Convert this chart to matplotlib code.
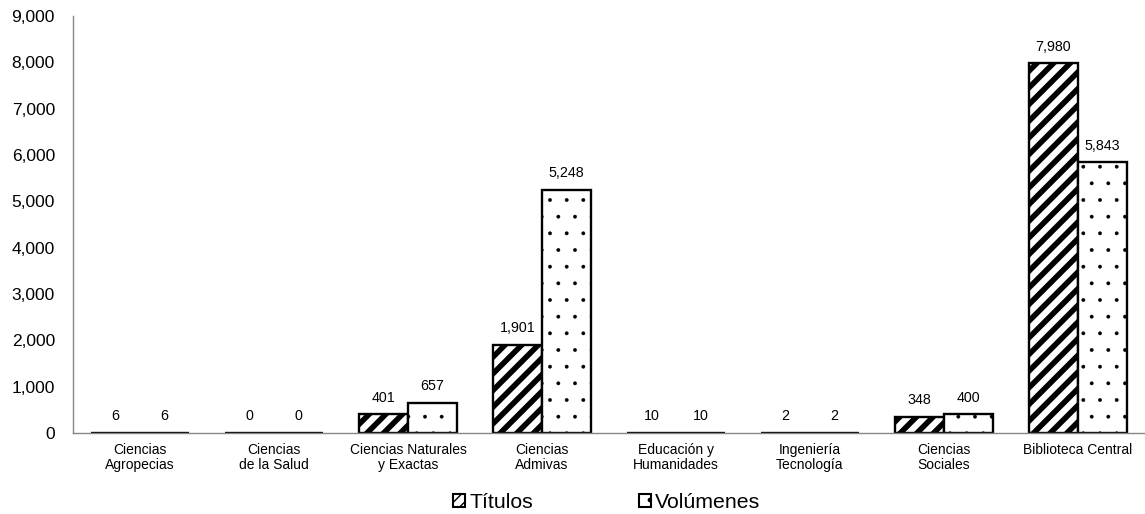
import matplotlib
matplotlib.use("Agg")
import matplotlib.pyplot as plt
import numpy as np
from matplotlib.patches import Patch

plt.rcParams['font.family'] = ['Liberation Sans', 'DejaVu Sans']

# datos
categorias = ["Ciencias\nAgropecias", "Ciencias\nde la Salud", "Ciencias Naturales\ny Exactas",
              "Ciencias\nAdmivas", "Educación y\nHumanidades", "Ingeniería\nTecnología",
              "Ciencias\nSociales", "Biblioteca Central"]
titulos = [6, 0, 401, 1901, 10, 2, 348, 7980]
volumenes = [6, 0, 657, 5248, 10, 2, 400, 5843]

x = np.arange(len(categorias))
w = 0.366

fig = plt.figure(figsize=(11.45, 5.14), dpi=100)
ax = fig.add_axes([0.0638, 0.1576, 0.936, 0.8113])

b1 = ax.bar(x - w/2, titulos, w, color="white", edgecolor="black", linewidth=1.7, hatch="//")
b2 = ax.bar(x + w/2, volumenes, w, color="white", edgecolor="black", linewidth=1.7, hatch=".")
for p in b1:
    if hasattr(p, "set_hatch_linewidth"):
        p.set_hatch_linewidth(4.0)
for p in b2:
    if hasattr(p, "set_hatch_linewidth"):
        p.set_hatch_linewidth(0.3)

# etiquetas de datos
for bars, vals in ((b1, titulos), (b2, volumenes)):
    for p, v in zip(bars, vals):
        ax.annotate(f"{v:,}", (p.get_x() + p.get_width()/2, v), xytext=(0, 7),
                    textcoords="offset points", ha="center", va="bottom", fontsize=10.3)

ax.set_xlim(-0.5, len(categorias) - 0.5)
ax.set_ylim(0, 9000)
ax.set_yticks(np.arange(0, 9001, 1000))
ax.yaxis.set_major_formatter(matplotlib.ticker.FuncFormatter(lambda v, _: f"{int(v):,}"))
ax.set_xticks(x)
ax.set_xticklabels(categorias, fontsize=10, linespacing=1.15)
ax.tick_params(axis="y", length=0, pad=13, labelsize=12.5)
ax.tick_params(axis="x", length=0, pad=7)

for s in ("top", "right"):
    ax.spines[s].set_visible(False)
for s in ("left", "bottom"):
    ax.spines[s].set_color("#868686")
    ax.spines[s].set_linewidth(1.0)

h1 = Patch(facecolor="white", edgecolor="black", hatch="///", linewidth=1.5)
h2 = Patch(facecolor="white", edgecolor="black", hatch=".", linewidth=1.5)
if hasattr(h1, "set_hatch_linewidth"):
    h1.set_hatch_linewidth(3.6)
    h2.set_hatch_linewidth(0.3)
leg = fig.legend([h1, h2], ["Títulos", "Volúmenes"], loc="center", bbox_to_anchor=(0.53, 0.022),
                 ncol=2, frameon=False, fontsize=15.3, handlelength=0.55, handleheight=0.55,
                 handletextpad=0.2, columnspacing=5.0)

fig.savefig("out.png", dpi=100)
